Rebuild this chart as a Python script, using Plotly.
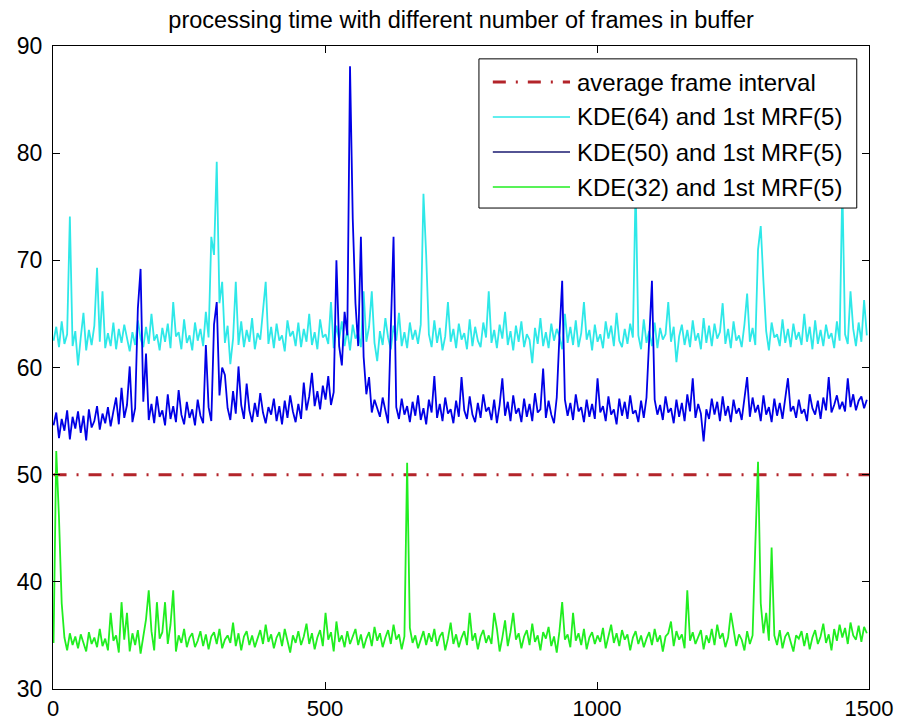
import plotly.graph_objects as go

# frame index (every 5th frame sampled from the 1500-frame run)
frames = list(range(1, 1500, 5))

kde64 = [
    62.5, 63.8, 61.9, 64.3, 62.2, 63.1, 74.1, 62.0, 63.4, 60.2,
    62.8, 65.1, 61.6, 63.5, 62.1, 63.9, 69.3, 62.4, 67.1, 61.8,
    63.2, 62.0, 64.2, 61.7, 63.6, 62.3, 64.0, 62.6, 61.5, 63.3,
    62.1, 64.4, 62.7, 61.9, 63.8, 62.2, 65.0, 62.5, 63.1, 61.6,
    63.7, 62.4, 64.1, 61.8, 66.1, 62.9, 63.3, 61.7, 64.5, 62.3,
    63.0, 61.6, 64.2, 62.5, 63.6, 62.0, 65.2, 62.8, 72.2, 70.5,
    79.2, 66.0, 68.0, 62.3, 63.9, 60.3, 62.7, 68.0, 62.1, 64.3,
    61.9, 63.5, 62.4, 64.6, 61.7, 63.2, 62.6, 65.3, 68.0, 62.2,
    63.8, 61.8, 64.1, 62.5, 63.0, 61.5, 64.4, 62.9, 63.4, 62.0,
    64.2, 61.9, 63.6, 62.4, 65.0, 62.1, 63.3, 61.7, 64.5, 62.8,
    63.1, 62.2, 66.1, 61.8, 63.9, 62.6, 64.3, 62.0, 63.5, 61.6,
    64.0, 62.7, 63.2, 61.9, 67.1, 62.4, 63.8, 67.1, 62.3, 60.6,
    63.4, 62.1, 64.6, 62.8, 61.7, 63.9, 62.5, 65.1, 62.0, 63.3,
    61.8, 64.2, 62.6, 63.5, 62.2, 64.0, 76.2, 70.5, 63.1, 61.9,
    64.4, 62.3, 63.7, 61.6, 62.9, 66.1, 62.4, 63.6, 61.8, 64.1,
    62.6, 63.2, 61.7, 64.5, 62.0, 63.8, 62.5, 61.9, 64.2, 62.8,
    67.1, 62.3, 63.5, 61.8, 64.0, 62.7, 65.2, 62.1, 63.4, 61.6,
    63.9, 62.4, 64.3, 61.9, 63.1, 62.6, 60.4, 63.7, 62.2, 64.6,
    62.0, 63.3, 61.8, 64.1, 62.5, 63.6, 62.9, 61.7, 65.0, 62.3,
    63.8, 62.1, 64.4, 61.9, 63.2, 66.1, 62.6, 63.5, 61.6, 64.0,
    62.4, 63.1, 61.8, 64.3, 62.7, 63.9, 62.0, 65.1, 62.5, 61.9,
    63.6, 62.2, 64.1, 62.8, 77.0, 63.0, 61.7, 64.5, 62.3, 63.4,
    62.0, 64.2, 61.8, 63.7, 62.6, 63.1, 66.1, 62.4, 63.8, 60.5,
    62.9, 64.0, 62.1, 63.5, 61.9, 64.4, 62.5, 63.2, 61.7, 64.6,
    62.3, 63.9, 62.0, 64.1, 62.7, 63.3, 66.0, 62.2, 63.6, 61.8,
    64.3, 62.5, 63.0, 61.9, 64.0, 66.9, 62.4, 63.7, 62.1, 71.0,
    73.2, 68.0, 63.4, 61.6, 64.2, 62.8, 63.1, 62.0, 64.5, 62.3,
    63.6, 61.9, 64.1, 62.6, 63.3, 62.1, 65.0, 62.4, 63.8, 61.7,
    64.4, 62.2, 63.5, 62.0, 64.0, 62.7, 63.2, 61.8, 64.3, 62.5,
    77.0, 63.1, 62.2, 67.1, 63.6, 62.0, 64.2, 62.4, 66.3, 63.0,
]

kde50 = [
    54.6, 55.8, 53.4, 55.2, 54.1, 56.0, 53.3, 55.4, 54.3, 55.9,
    53.9, 55.5, 53.2, 56.1, 54.4, 55.0, 56.4, 54.2, 55.7, 54.8,
    56.3, 54.5, 55.9, 57.2, 54.7, 58.1, 55.3, 56.5, 60.1, 54.9,
    56.2, 65.5, 69.2, 56.8, 61.3, 55.1, 56.6, 54.8, 57.3, 55.4,
    56.0, 54.6, 57.5, 55.2, 56.4, 54.9, 57.9, 55.6, 54.7, 56.8,
    55.3, 56.1, 54.6, 57.0, 55.5, 54.8, 62.1, 56.3, 55.0, 64.0,
    66.1, 57.4, 60.0, 59.3, 56.2, 55.1, 57.8, 55.7, 60.1, 56.5,
    55.2, 58.5, 56.0, 54.9, 56.7, 55.4, 57.6, 55.8, 54.8, 56.3,
    55.6, 57.1, 55.0, 56.4, 54.7, 56.9, 55.3, 57.4, 55.9, 54.9,
    56.6, 55.2, 58.6, 56.0, 57.3, 59.5, 56.4, 57.8, 56.1, 58.3,
    57.0, 59.2, 56.5, 57.7, 70.0, 62.0, 60.2, 65.2, 63.0, 88.1,
    73.9, 66.0, 62.0, 72.2, 61.0, 57.5, 59.1, 55.8, 57.0, 56.1,
    55.4, 57.2, 55.9, 54.8, 63.6, 72.2, 56.3, 55.2, 57.1, 55.6,
    56.4, 54.9, 56.8, 55.5, 57.4, 55.1, 56.2, 54.7, 57.0, 55.8,
    59.2, 55.3, 56.6, 55.0, 57.2, 55.7, 56.1, 54.8, 56.9, 55.4,
    59.1, 56.0, 55.2, 57.3, 55.6, 54.9, 56.7, 55.3, 57.5, 55.9,
    56.3, 55.1, 57.0, 54.8, 56.5, 59.0, 55.5, 56.8, 55.0, 57.4,
    55.7, 56.2, 54.9, 57.1, 55.4, 56.6, 55.0, 57.6, 55.8, 56.1,
    59.9, 55.3, 56.9, 55.6, 54.8, 57.2, 63.0, 68.1, 57.0, 55.5,
    56.7, 55.1, 57.5, 55.9, 56.3, 54.9, 57.0, 55.4, 56.6, 55.2,
    59.0, 55.8, 56.4, 55.0, 57.3, 55.6, 56.1, 54.7, 57.1, 55.5,
    56.8, 55.2, 57.4, 55.7, 56.0, 54.9, 56.9, 55.3, 57.2, 63.0,
    68.1, 57.0, 55.6, 56.5, 55.1, 57.3, 55.8, 56.2, 54.8, 57.0,
    55.4, 56.7, 55.0, 57.5, 55.9, 59.0, 55.3, 56.6, 55.7, 53.1,
    56.1, 55.2, 57.1, 55.6, 56.8, 55.0, 57.3, 55.5, 56.4, 54.9,
    57.0, 55.7, 56.2, 55.1, 56.9, 59.1, 55.4, 57.2, 55.8, 56.5,
    55.0, 57.4, 55.6, 56.3, 54.9, 57.1, 55.5, 56.7, 55.2, 57.3,
    59.0, 55.9, 56.4, 55.3, 57.0, 55.7, 56.1, 55.0, 57.5, 56.2,
    55.6, 56.9, 55.2, 57.2, 56.0, 59.1, 55.8, 56.5, 57.4, 56.1,
    56.8, 55.9, 59.0, 56.3, 57.5, 56.0, 56.9, 57.3, 56.2, 57.0,
]

kde32 = [
    34.3, 52.2, 46.0, 38.0, 34.8, 33.6, 35.2, 34.1, 34.9, 33.8,
    35.1, 34.4, 33.5, 35.3, 34.2, 34.8, 33.9, 35.6, 34.0, 34.7,
    33.6, 37.1, 34.5, 35.0, 33.4, 38.1, 34.6, 37.1, 33.5, 35.2,
    34.1, 35.5, 33.3, 34.9, 36.5, 39.2, 35.4, 33.6, 38.1, 34.7,
    35.3, 38.1, 34.2, 36.0, 39.2, 33.5, 35.0, 34.3, 35.6, 33.9,
    34.8, 35.2, 33.9, 34.5, 35.4, 34.0, 35.1, 33.7, 34.9, 35.3,
    34.2, 35.6, 33.8, 34.6, 35.0, 34.3, 36.2, 34.0, 35.2, 33.6,
    34.9, 35.4, 34.1, 35.0, 33.9, 34.7, 35.5, 34.2, 36.0, 34.4,
    35.1, 33.8, 34.8, 35.3, 34.0, 35.6, 34.5, 33.4, 35.0, 34.3,
    35.4, 34.1, 34.9, 36.1, 34.2, 35.2, 33.7, 34.8, 35.5, 34.0,
    37.1, 34.6, 35.3, 33.5, 36.3, 34.4, 35.0, 33.9, 35.4, 34.2,
    34.9, 35.6, 34.1, 35.1, 33.8, 34.7, 35.3, 34.0, 35.8, 34.5,
    35.2, 33.9, 34.8, 35.5, 34.2, 36.0, 34.6, 35.1, 33.7, 34.9,
    51.1, 35.7, 34.3, 35.0, 33.8, 34.6, 35.4, 34.1, 35.2, 34.4,
    35.6, 34.0, 34.9, 35.3, 33.6, 34.7, 36.2, 34.2, 35.1, 33.9,
    34.8, 35.4, 34.1, 37.1, 34.5, 35.2, 33.7, 34.9, 35.5, 34.3,
    35.0, 34.2, 37.1, 35.6, 33.5, 34.8, 36.4, 34.0, 35.3, 37.1,
    34.6, 35.2, 33.8, 34.9, 35.5, 34.1, 36.1, 34.4, 35.0, 33.6,
    35.3, 34.7, 35.8, 34.0, 34.9, 33.4, 35.4, 38.1, 34.6, 35.1,
    33.9, 37.1, 34.5, 35.2, 34.1, 35.6, 33.7, 34.8, 35.3, 34.2,
    35.0, 34.4, 35.7, 33.8, 34.9, 36.0, 34.3, 35.2, 34.0, 35.5,
    34.6, 35.1, 33.6, 34.8, 35.4, 34.2, 35.0, 33.9, 34.7, 35.3,
    34.1, 35.6, 34.4, 35.0, 33.5, 34.9, 35.2, 36.3, 34.0, 35.4,
    34.6, 35.1, 33.8, 39.2, 34.5, 35.3, 34.2, 34.8, 35.5, 33.7,
    35.0, 34.3, 35.6, 34.1, 36.0, 34.7, 35.2, 33.9, 34.8, 37.1,
    35.3, 34.0, 35.1, 34.6, 33.6, 35.4, 34.2, 35.0, 43.4, 51.2,
    38.0, 35.2, 37.1, 34.5, 43.2, 35.0, 34.1, 35.5, 33.8, 34.9,
    35.3, 34.4, 33.5, 35.0, 34.7, 35.4, 34.0, 35.2, 33.7, 34.8,
    35.5, 34.2, 34.9, 36.1, 34.3, 35.1, 33.6, 35.6, 34.5, 36.0,
    34.8, 35.7, 34.2, 36.2, 35.0, 34.6, 35.9, 34.4, 35.8, 35.2,
]

avg_interval = 50
avg_x = [1, 1500]

series_names = [
    "average frame interval",
    "KDE(64) and 1st MRF(5)",
    "KDE(50) and 1st MRF(5)",
    "KDE(32) and 1st MRF(5)",
]
title_text = "processing time with different number of frames in buffer"
x_ticks = [0, 500, 1000, 1500]
y_ticks = [30, 40, 50, 60, 70, 80, 90]

RED = "#b3242a"
CYAN = "#2ee8e8"
BLUE = "#0000e6"
GREEN = "#20ee20"
RED_DASH = "13px,10px,2px,10px"
FONT = "Liberation Sans, Arial, sans-serif"
TXT = "#000000"

fig = go.Figure()
fig.add_trace(go.Scatter(x=avg_x, y=[avg_interval] * len(avg_x), mode="lines",
                         line=dict(color=RED, width=3, dash=RED_DASH),
                         name=series_names[0], showlegend=False))
fig.add_trace(go.Scatter(x=frames, y=kde64, mode="lines",
                         line=dict(color=CYAN, width=1.8),
                         name=series_names[1], showlegend=False))
fig.add_trace(go.Scatter(x=frames, y=kde50, mode="lines",
                         line=dict(color=BLUE, width=1.8),
                         name=series_names[2], showlegend=False))
fig.add_trace(go.Scatter(x=frames, y=kde32, mode="lines",
                         line=dict(color=GREEN, width=1.8),
                         name=series_names[3], showlegend=False))

# MATLAB-style legend box (drawn in paper coordinates)
L, R, T, B = 0.522, 0.985, 0.980, 0.748
shapes = [dict(type="rect", xref="paper", yref="paper", x0=L, x1=R, y0=B, y1=T,
               line=dict(color="black", width=1), fillcolor="white", layer="above")]
row_y = [0.944, 0.8896, 0.8351, 0.7807]
row_style = [dict(color=RED, width=3, dash=RED_DASH),
             dict(color=CYAN, width=1.5),
             dict(color="#1a1a70", width=1.5),
             dict(color=GREEN, width=1.5)]
annotations = []
for yy, st, nm in zip(row_y, row_style, series_names):
    shapes.append(dict(type="line", xref="paper", yref="paper", x0=0.539, x1=0.6336,
                       y0=yy, y1=yy, line=st, layer="above"))
    annotations.append(dict(xref="paper", yref="paper", x=0.640, y=yy, text=nm,
                            showarrow=False, xanchor="left", yanchor="middle",
                            font=dict(family=FONT, size=24, color=TXT)))

fig.update_layout(
    width=898, height=724,
    margin=dict(l=53, r=29, t=46, b=35, autoexpand=False),
    paper_bgcolor="white", plot_bgcolor="white",
    title=dict(text=title_text, x=0.5135, xanchor="center", y=0.972, yanchor="middle",
               font=dict(family=FONT, size=23.5, color=TXT)),
    showlegend=False,
    shapes=shapes,
    annotations=annotations,
)
axis_common = dict(showgrid=False, zeroline=False, showline=True, linecolor="black",
                   linewidth=1, mirror="ticks", ticks="inside", ticklen=7,
                   tickcolor="black", tickwidth=1, automargin=False)
fig.update_xaxes(range=[0, 1500], tickvals=x_ticks, ticktext=[str(v) for v in x_ticks],
                 ticklabelstandoff=0, tickfont=dict(family=FONT, size=22, color=TXT),
                 **axis_common)
fig.update_yaxes(range=[30, 90], tickvals=y_ticks, ticktext=[str(v) for v in y_ticks],
                 ticklabelstandoff=5, tickfont=dict(family=FONT, size=23, color=TXT),
                 **axis_common)

fig.write_html("out.html")
